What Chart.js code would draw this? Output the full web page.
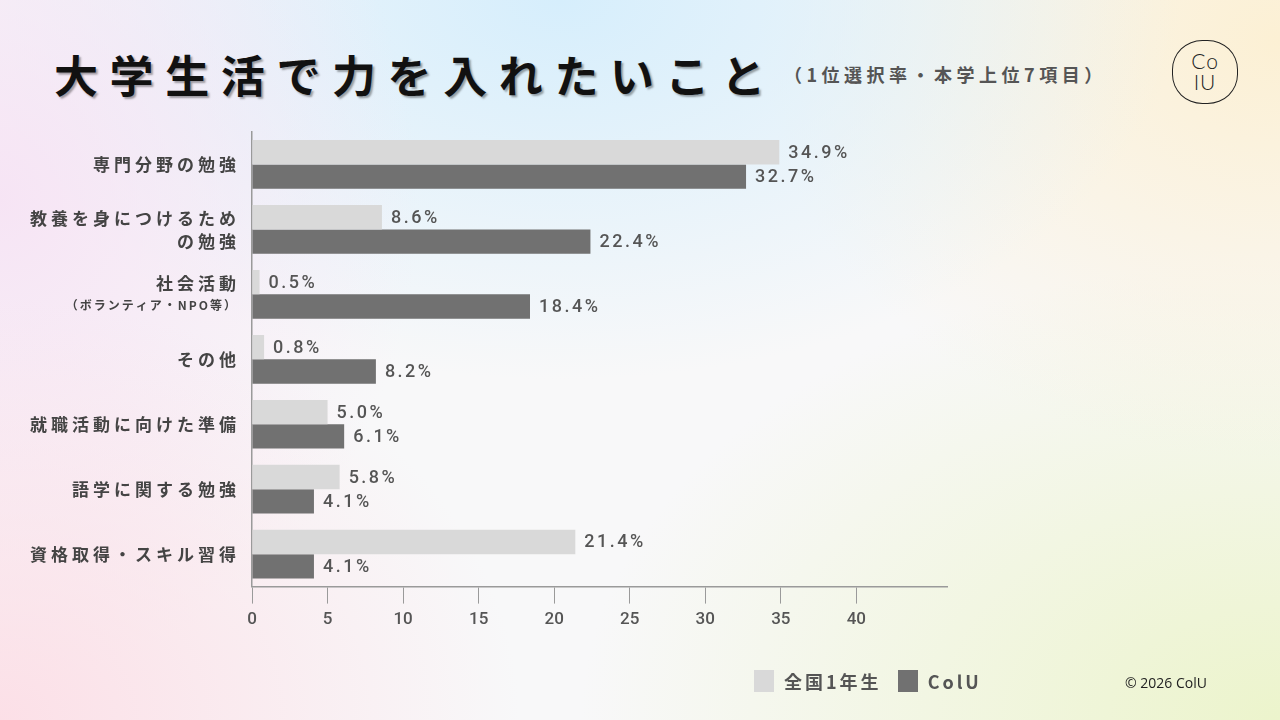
<!DOCTYPE html>
<html lang="ja">
<head>
<meta charset="utf-8">
<script src="https://cdn.jsdelivr.net/npm/chart.js@4.4.1/dist/chart.umd.min.js"></script>
<style>
	html, body { margin: 0; padding: 0; }
	body {
		width: 1280px; height: 720px; overflow: hidden; position: relative;
		font-family: "Noto Sans CJK JP", "Noto Sans", sans-serif;
		background:
			radial-gradient(ellipse 520px 420px at 0px 720px, rgba(252,222,230,0.95), rgba(252,222,230,0) 100%),
			radial-gradient(ellipse 420px 480px at 0px 200px, rgba(246,226,244,0.9), rgba(246,226,244,0) 100%),
			radial-gradient(ellipse 620px 380px at 560px 0px, rgba(214,238,252,1), rgba(214,238,252,0) 100%),
			radial-gradient(ellipse 520px 420px at 1280px 40px, rgba(252,240,212,1), rgba(252,240,212,0) 100%),
			radial-gradient(ellipse 700px 460px at 1280px 720px, rgba(236,244,204,1), rgba(236,244,204,0) 100%),
			#f8f8f9;
	}
	canvas { position: absolute; left: 0; top: 0; }
	.title {
		position: absolute; left: 54px; top: 42px; margin: 0;
		font-size: 44px; font-weight: 700; letter-spacing: 11.6px; color: #111;
		text-shadow: 2px 2px 2px rgba(0,0,0,0.35);
	}
	.sub {
		position: absolute; left: 784px; top: 61px;
		font-size: 18px; font-weight: 700; letter-spacing: 4.5px; color: #555;
	}
	.logo {
		position: absolute; left: 1172px; top: 40px; width: 64px; height: 62px;
		border: 1.5px solid #222; border-radius: 46%;
		font-family: Lato, sans-serif; font-weight: 300; color: #222;
		text-align: center; font-size: 21px; line-height: 21px; letter-spacing: 1px;
	}
	.logo div:first-child { margin-top: 9px; }
	.legend {
		position: absolute; left: 754px; top: 668px; display: flex; align-items: center;
		font-size: 18px; font-weight: 700; color: #555; letter-spacing: 3px;
	}
	.legend span.sw { display: inline-block; width: 20px; height: 22px; margin-right: 10px; }
	.legend span.item { display: flex; align-items: center; margin-right: 16px; }
	.copy {
		position: absolute; left: 1125px; top: 673px;
		font-family: "Open Sans", sans-serif; font-size: 14px; color: #222;
	}
</style>
</head>
<body>
<h1 class="title">大学生活で力を入れたいこと</h1>
<div class="sub">（1位選択率・本学上位7項目）</div>
<div class="logo"><div>Co</div><div>IU</div></div>
<canvas id="chart" width="1280" height="720"></canvas>
<div class="legend" id="legend"></div>
<div class="copy">© 2026 ColU</div>
<script>
// 項目（上から順）
var categories = [
	['専門分野の勉強'],
	['教養を身につけるため', 'の勉強'],
	['社会活動', '（ボランティア・NPO等）'],
	['その他'],
	['就職活動に向けた準備'],
	['語学に関する勉強'],
	['資格取得・スキル習得']
];
var seriesNames = ['全国1年生', 'ColU'];
var nationalValues = [34.9, 8.6, 0.5, 0.8, 5.0, 5.8, 21.4];
var colUValues = [32.7, 22.4, 18.4, 8.2, 6.1, 4.1, 4.1];
var tickValues = [0, 5, 10, 15, 20, 25, 30, 35, 40];
var colors = ['#d9d9d9', '#717171'];

// 項目名（2行目が括弧書きなら小さい字）
var categoryLabels = {
	id: 'categoryLabels',
	afterDraw: function (chart) {
		var ctx = chart.ctx;
		var yScale = chart.scales.y;
		ctx.save();
		ctx.fillStyle = '#444';
		ctx.textAlign = 'right';
		ctx.textBaseline = 'middle';
		categories.forEach(function (lines, i) {
			var y = yScale.getPixelForValue(i);
			ctx.font = '700 17px "Noto Sans CJK JP"';
			ctx.letterSpacing = '4px';
			if (lines.length == 1) {
				ctx.fillText(lines[0], 240, y);
			} else if (lines[1].charAt(0) == '（') {
				ctx.fillText(lines[0], 240, y - 11);
				ctx.font = '700 12px "Noto Sans CJK JP"';
				ctx.letterSpacing = '2px';
				ctx.fillText(lines[1], 238, y + 11);
			} else {
				ctx.fillText(lines[0], 240, y - 11);
				ctx.fillText(lines[1], 240, y + 12);
			}
		});
		ctx.restore();
	}
};

// 棒の先に数値
var valueLabels = {
	id: 'valueLabels',
	afterDatasetsDraw: function (chart) {
		var ctx = chart.ctx;
		ctx.save();
		ctx.fillStyle = '#555';
		ctx.font = '500 18px Roboto';
		ctx.letterSpacing = '2.5px';
		ctx.textAlign = 'left';
		ctx.textBaseline = 'middle';
		chart.data.datasets.forEach(function (ds, di) {
			chart.getDatasetMeta(di).data.forEach(function (bar, i) {
				ctx.fillText(ds.data[i].toFixed(1) + '%', bar.x + 9, bar.y + 1);
			});
		});
		ctx.restore();
	}
};

new Chart('chart', {
	type: 'bar',
	data: {
		labels: categories.map(function (l) { return l.join(''); }),
		datasets: [
			{ label: seriesNames[0], data: nationalValues, backgroundColor: colors[0] },
			{ label: seriesNames[1], data: colUValues, backgroundColor: colors[1] }
		]
	},
	options: {
		indexAxis: 'y',
		responsive: false,
		animation: false,
		categoryPercentage: 0.75,
		barPercentage: 1.0,
		layout: { padding: { left: 244, top: 132, right: 333, bottom: 84 } },
		plugins: {
			legend: { display: false },
			tooltip: { enabled: false }
		},
		scales: {
			x: {
				min: 0,
				max: 46,
				afterBuildTicks: function (axis) {
					axis.ticks = tickValues.map(function (v) { return { value: v }; });
				},
				grid: { drawOnChartArea: false, drawTicks: true, tickLength: 17, color: '#9a9a9a', lineWidth: 1 },
				border: { display: true, color: '#9a9a9a', width: 1.5 },
				ticks: { color: '#555', font: { family: 'Roboto', size: 17, weight: '500' }, padding: 6, maxRotation: 0 }
			},
			y: {
				grid: { display: false },
				border: { display: true, color: '#9a9a9a', width: 1.5 },
				ticks: { display: false }
			}
		}
	},
	plugins: [categoryLabels, valueLabels]
});

// 凡例
var legend = document.getElementById('legend');
seriesNames.forEach(function (name, i) {
	var item = document.createElement('span');
	item.className = 'item';
	item.innerHTML = '<span class="sw" style="background:' + colors[i] + '"></span>' + name;
	legend.appendChild(item);
});
</script>
</body>
</html>
